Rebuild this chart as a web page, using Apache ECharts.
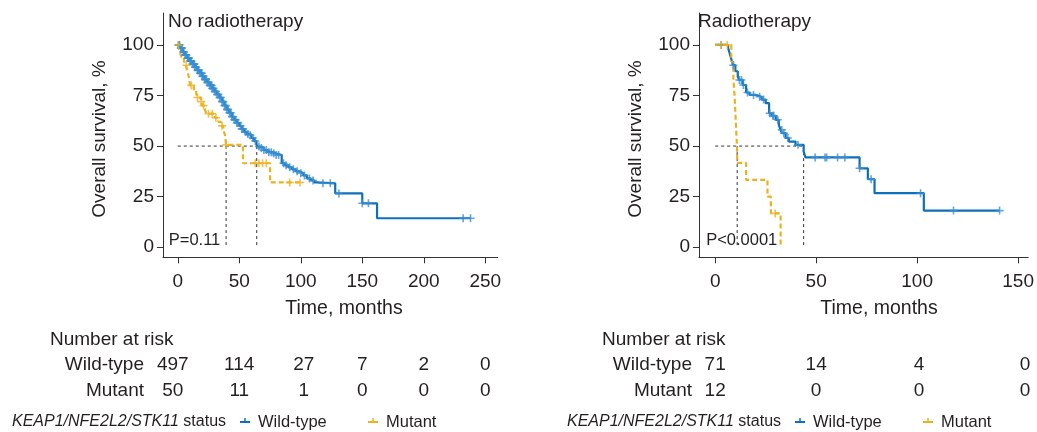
<!DOCTYPE html>
<html><head><meta charset="utf-8">
<script src="https://cdn.jsdelivr.net/npm/echarts@6/dist/echarts.min.js"></script>
<style>html,body{margin:0;padding:0;background:#fff}#c{width:1037px;height:432px}</style>
</head><body><div id="c"></div>
<script>
// ---------- DATA ----------
const xTicksLeft = [0, 50, 100, 150, 200, 250];
const xTicksRight = [0, 50, 100, 150];
const yTicks = [0, 25, 50, 75, 100];

// No radiotherapy, wild-type
const noRtWildTime = [0,2,4,6,8,10,12,14,16,18,20,22,24,26,28,30,32,34,36,38,40,42,44,46,48,50,52,54,56,58,60,62,64,65,67,70,73,77,80,84.5,87,90,93,96,99,102,105,108,111,113,128,150,162,238];
const noRtWildSurv = [100,98.5,96.5,95,93.5,92,90.5,89,87.5,86,84.5,83,81.5,80,78.5,77,75.5,74,72,70,68,66.5,64.5,63,61.5,60,58.5,57,56,55.3,54,52.5,50.8,49.8,49,48,47,46.3,45.6,41.5,40.5,39.5,38.5,37.5,36.6,35.5,34,33,32,31.6,26.6,21.7,14.3,14.3];
const noRtWildCensor = [0.5,1,1.5,2.5,3,3.5,4.5,5,6,6.5,7,8,8.5,9,10,10.5,11,12,13,13.5,14,15,16,16.5,17,18,19,19.5,20,21,22,22.5,23,24,25,26,27,27.5,28,29,30,31,32,33,34,35,36,37,38,39,40,41,42,43,44,45,46,47,48,49,51,52,53,55,57,59,61,63,66,68,70,72,74,76,78,80,82,86,88,91,94,97,100,103,107,110,118,124,131,150,155,232,238];

// No radiotherapy, mutant
const noRtMutTime = [0,1,2,3,5,6.5,7.5,9,10,13,15,16,19,20,22,23.6,30,33,35,37,38.4,39.3,53,75,99.4];
const noRtMutSurv = [100,98,96,94,92,90,88,84,80,78,76,74,72,70,68,66,64,62,60,58,55.5,50.6,41.5,32,32];
const noRtMutCensor = [0.5,7,11,16,19,21,25,28,31,36,39.5,63,66,69,72,91,99.4];
const noRtMedians = [39.3, 64.2];

// Radiotherapy, wild-type
const rtWildTime = [0,6.4,7.2,8,8.8,10,11.2,12,13.7,15.3,17,20,23,25,26.7,28,30,31.5,32.4,33.2,34.9,36.5,39.8,43.8,44.7,71.5,75.6,78.9,103.3,140.8];
const rtWildSurv = [100,98.6,95.8,93,90,87,84.3,82.7,80.2,76.5,75.3,74.4,73,71.2,66.2,65,63,60.5,58,56.4,54,52.2,50.6,47.3,44.4,39,33.6,26.7,18.1,18.1];
const rtWildCensor = [3,9,12,13,14,16,19,22,24,27,28.5,29,31,33,34,36,41,49.5,54.4,55.2,60.6,64.2,71.5,77.2,101.7,118,140.8];

// Radiotherapy, mutant
const rtMutTime = [0,8,9,9.6,10,10.4,10.8,11,15.3,25.9,27.6,32.4];
const rtMutSurv = [100,91.7,83.3,75,66.7,58.3,50,41.7,33.3,25,16.7,0];
const rtMutCensor = [3,6,29.7];
const rtMedians = [10.9, 43.8];

const noRtRiskWild = [497, 114, 27, 7, 2, 0];
const noRtRiskMut = [50, 11, 1, 0, 0, 0];
const rtRiskWild = [71, 14, 4, 0];
const rtRiskMut = [12, 0, 0, 0];

// ---------- STYLE ----------
const BLUE = '#0E6FBA', BLUE_C = '#3A8FD3', YEL = '#EDB120', TXT = '#231F20';
const FONT = 'Liberation Sans, Arial, sans-serif';
const PLUS = 'path://M4,0L6,0L6,4L10,4L10,6L6,6L6,10L4,10L4,6L0,6L0,4L4,4Z';

function zip(t, s) { return t.map((v, i) => [v, s[i]]); }
function survAt(t, times, surv) { let v = surv[0]; for (let i = 0; i < times.length; i++) { if (times[i] <= t) v = surv[i]; } return v; }
function censorPts(c, times, surv) { return c.map(t => [t, survAt(t, times, surv)]); }

function axisPair(gi, xmin, xmax, ticks) {
  return {
    x: {
      type: 'value', gridIndex: gi, min: xmin, max: xmax,
      axisLine: { show: true, onZero: false, lineStyle: { color: '#333', width: 1 } },
      axisTick: { show: true, length: 6, customValues: ticks, lineStyle: { color: '#333' } },
      axisLabel: { customValues: ticks, fontSize: 19, fontFamily: FONT, color: TXT, margin: 15 },
      splitLine: { show: false }
    },
    y: {
      type: 'value', gridIndex: gi, min: -5, max: 115,
      axisLine: { show: true, onZero: false, lineStyle: { color: '#333', width: 1 } },
      axisTick: { show: true, length: 6, customValues: yTicks, lineStyle: { color: '#333' } },
      axisLabel: { customValues: yTicks, fontSize: 19, fontFamily: FONT, color: TXT, margin: 9 },
      splitLine: { show: false }
    }
  };
}
const a0 = axisPair(0, -12, 260, xTicksLeft);
const a1 = axisPair(1, -8, 155, xTicksRight);

function kmSeries(ai, time, surv, cens, color, dashed) {
  return [
    { type: 'line', xAxisIndex: ai, yAxisIndex: ai, data: zip(time, surv), step: 'end', showSymbol: false, silent: true,
      lineStyle: { color: color, width: 2.2, type: dashed ? [5, 3] : 'solid' }, z: dashed ? 4 : 3 },
    { type: 'scatter', xAxisIndex: ai, yAxisIndex: ai, data: censorPts(cens, time, surv), symbol: PLUS, symbolSize: 8,
      itemStyle: { color: dashed ? YEL : BLUE_C }, z: 5, silent: true }
  ];
}
function dashSeg(ai, p1, p2) {
  return { type: 'line', xAxisIndex: ai, yAxisIndex: ai, data: [p1, p2], showSymbol: false, silent: true,
    lineStyle: { color: '#333', width: 1, type: [3, 3] }, z: 2 };
}
const medL = Math.max(...noRtMedians), medR = Math.max(...rtMedians);
const series = [].concat(
  [dashSeg(0, [0, 50], [medL, 50])], noRtMedians.map(m => dashSeg(0, [m, 50], [m, 0])),
  kmSeries(0, noRtWildTime, noRtWildSurv, noRtWildCensor, BLUE, false),
  kmSeries(0, noRtMutTime, noRtMutSurv, noRtMutCensor, YEL, true),
  [dashSeg(1, [0, 50], [medR, 50])], rtMedians.map(m => dashSeg(1, [m, 50], [m, 0])),
  kmSeries(1, rtWildTime, rtWildSurv, rtWildCensor, BLUE, false),
  kmSeries(1, rtMutTime, rtMutSurv, rtMutCensor, YEL, true)
);

const chart = echarts.init(document.getElementById('c'), null, { renderer: 'canvas' });
chart.setOption({
  animation: false,
  backgroundColor: '#fff',
  grid: [
    { left: 163, top: 13, width: 334.6, height: 244.3 },
    { left: 699, top: 13, width: 333.5, height: 244.3 }
  ],
  xAxis: [a0.x, a1.x],
  yAxis: [Object.assign(a0.y, { max: 115.8 }), Object.assign(a1.y, { max: 115.8 })],
  series: series
});

// ---------- TEXT (titles, risk tables, legends) ----------
function txt(x, y, text, opt) {
  opt = opt || {};
  return { type: 'text', x: x, y: y, rotation: opt.rot || 0, z: 10, silent: true,
    style: { text: text, fontSize: opt.size || 19, fontFamily: FONT, fill: TXT,
      align: opt.align || 'left', textAlign: opt.align || 'left', verticalAlign: 'middle', textVerticalAlign: 'middle',
      rich: opt.rich } };
}
const g = [];
function panel(ai, title, titleX, ticks, riskW, riskM, pText, tableX, labelRight, timeX, yTitleX, legX, colShift) {
  g.push(txt(titleX, 22, title, { size: 19 }));
  g.push(txt(timeX, 309, 'Time, months', { size: 19.5, align: 'center' }));
  g.push(txt(yTitleX, 139, 'Overall survival, %', { size: 19, align: 'center', rot: Math.PI / 2 }));
  const p0 = chart.convertToPixel({ xAxisIndex: ai, yAxisIndex: ai }, [0, 0]);
  g.push(txt(p0[0] - 9, 240, pText, { size: 16.5 }));
  g.push(txt(tableX, 340, 'Number at risk', { size: 19 }));
  g.push(txt(labelRight, 365, 'Wild-type', { size: 19, align: 'right' }));
  g.push(txt(labelRight, 391, 'Mutant', { size: 19, align: 'right' }));
  ticks.forEach((t, i) => {
    const px = chart.convertToPixel({ xAxisIndex: ai }, t) + (colShift[i] || 0);
    g.push(txt(px, 365, String(riskW[i]), { size: 19, align: 'center' }));
    g.push(txt(px, 391, String(riskM[i]), { size: 19, align: 'center' }));
  });
  // legend
  g.push(txt(legX, 422, '{i|KEAP1/NFE2L2/STK11} status', { size: 16, rich: { i: { fontStyle: 'italic', fontSize: 16, fontFamily: FONT, fill: TXT } } }));
  const lx1 = legX + 228, lx2 = legX + 356;
  [[lx1, BLUE, 'Wild-type'], [lx2, YEL, 'Mutant']].forEach(([x, c, label]) => {
    g.push({ type: 'line', z: 10, silent: true, shape: { x1: x, y1: 422, x2: x + 10, y2: 422 }, style: { stroke: c, lineWidth: 2 } });
    g.push({ type: 'line', z: 10, silent: true, shape: { x1: x + 5, y1: 418, x2: x + 5, y2: 422 }, style: { stroke: c, lineWidth: 1.5 } });
    g.push(txt(x + 18, 422, label, { size: 16.5 }));
  });
}
panel(0, 'No radiotherapy', 168, xTicksLeft, noRtRiskWild, noRtRiskMut, 'P=0.11', 50, 144, 344, 100, 12, [-5, 0, 3, 0, 0, 0]);
panel(1, 'Radiotherapy', 698, xTicksRight, rtRiskWild, rtRiskMut, 'P<0.0001', 602, 692, 879, 636, 567, [0, 0, 2, 7]);
chart.setOption({ graphic: { elements: g } });
</script></body></html>
